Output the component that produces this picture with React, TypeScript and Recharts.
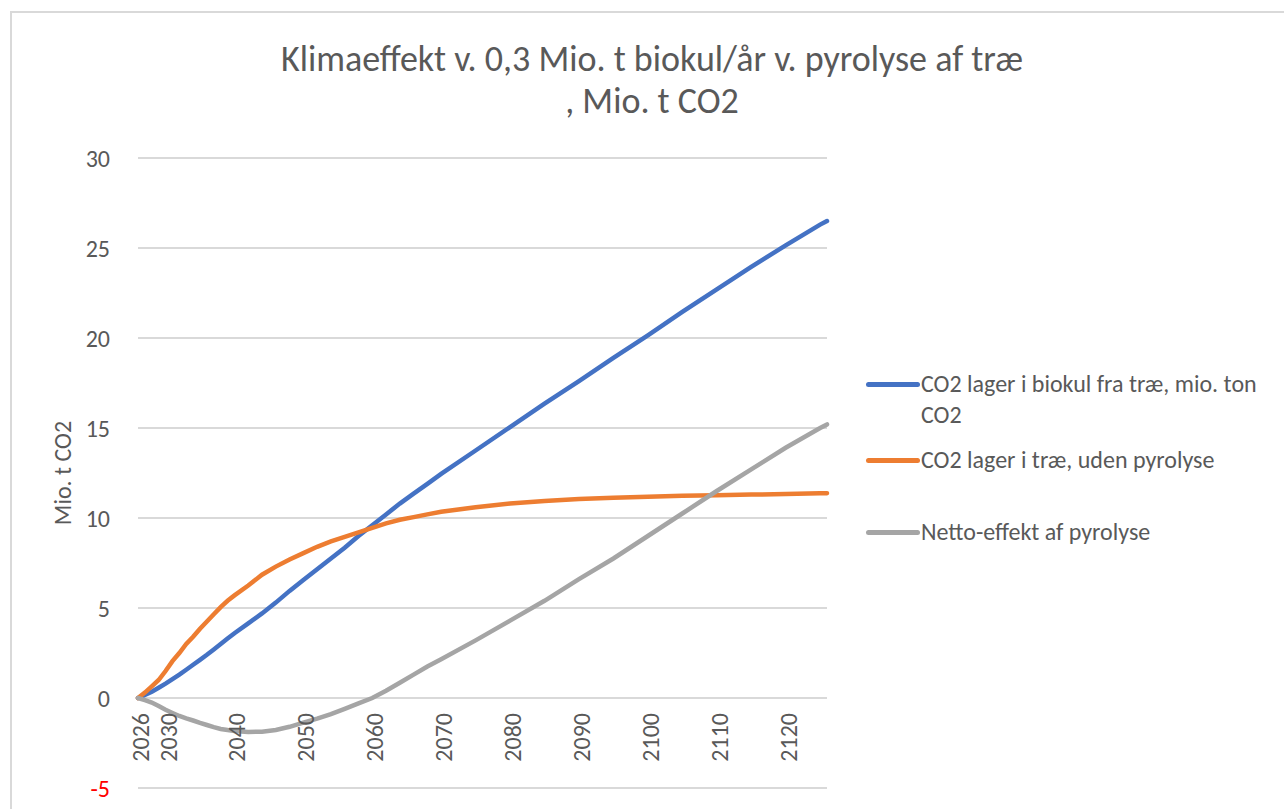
import { LineChart, Line, XAxis, YAxis, CartesianGrid } from "recharts";

const years = [
  2026, 2027, 2028, 2029, 2030, 2031, 2032, 2033, 2034, 2035, 2036, 2037, 2038, 2039, 2040,
  2042, 2044, 2046, 2048, 2050, 2052, 2054, 2056, 2058, 2060, 2062, 2064, 2066, 2068, 2070,
  2075, 2080, 2085, 2090, 2095, 2100, 2105, 2110, 2115, 2120, 2125, 2126,
];

const biokul = [
  0, 0.17, 0.35, 0.57, 0.8, 1.05, 1.3, 1.57, 1.85, 2.12, 2.4, 2.7, 3.0, 3.3, 3.6,
  4.15, 4.7, 5.3, 5.95, 6.55, 7.15, 7.75, 8.35, 9.0, 9.6, 10.2, 10.8, 11.35, 11.9, 12.45,
  13.75, 15.05, 16.35, 17.6, 18.9, 20.15, 21.45, 22.7, 23.95, 25.15, 26.3, 26.5,
];

const trae = [
  0, 0.3, 0.65, 1.0, 1.5, 2.05, 2.5, 3.0, 3.4, 3.85, 4.25, 4.65, 5.05, 5.4, 5.7,
  6.25, 6.85, 7.3, 7.7, 8.05, 8.4, 8.7, 8.95, 9.2, 9.45, 9.7, 9.9, 10.05, 10.2, 10.35,
  10.6, 10.8, 10.95, 11.05, 11.12, 11.18, 11.23, 11.27, 11.3, 11.33, 11.37, 11.38,
];

const netto = [
  0, -0.12, -0.25, -0.45, -0.65, -0.83, -1.0, -1.13, -1.25, -1.38, -1.5, -1.62, -1.72, -1.78, -1.83,
  -1.89, -1.87, -1.78, -1.6, -1.37, -1.15, -0.9, -0.6, -0.3, 0.0, 0.4, 0.85, 1.3, 1.75, 2.15,
  3.2, 4.3, 5.4, 6.6, 7.75, 9.0, 10.25, 11.5, 12.7, 13.9, 15.0, 15.2,
];

const xTicks = [2026, 2030, 2040, 2050, 2060, 2070, 2080, 2090, 2100, 2110, 2120];
const yTicks = [-5, 0, 5, 10, 15, 20, 25, 30];

const series = [
  { key: "biokul", name: "CO2 lager i biokul fra træ, mio. ton CO2", color: "#4472c4" },
  { key: "trae", name: "CO2 lager i træ, uden pyrolyse", color: "#ed7d31" },
  { key: "netto", name: "Netto-effekt af pyrolyse", color: "#a5a5a5" },
];

const data = years.map((year, i) => ({
  year,
  biokul: biokul[i],
  trae: trae[i],
  netto: netto[i],
}));

const W = 1284;
const H = 809;
const PLOT = { left: 138, right: 827, top: 158, bottom: 788 };
const Y_MIN = -5;
const Y_MAX = 30;
const zeroY = PLOT.bottom - ((0 - Y_MIN) / (Y_MAX - Y_MIN)) * (PLOT.bottom - PLOT.top);

const FONT = "Carlito, 'Open Sans', sans-serif";
const TEXT = "#595959";
const legendTops = [368, 444, 516];

function XTick({ x, payload }: any) {
  const tx = x + 2.5;
  const ty = zeroY + 15;
  return (
    <text
      x={tx}
      y={ty}
      transform={`rotate(-90, ${tx}, ${ty})`}
      textAnchor="end"
      dominantBaseline="central"
      fill={TEXT}
      fontSize={24}
      fontFamily={FONT}
    >
      {payload.value}
    </text>
  );
}

function YTick({ x, y, payload }: any) {
  return (
    <text
      x={x}
      y={y}
      textAnchor="end"
      dominantBaseline="central"
      fill={payload.value < 0 ? "#ff0000" : TEXT}
      fontSize={24}
      fontFamily={FONT}
    >
      {payload.value}
    </text>
  );
}

export default function App() {
  return (
    <div style={{ position: "absolute", left: 0, top: 0, width: W, height: H, overflow: "hidden", background: "#fff" }}>
      <div
        style={{
          position: "absolute",
          left: 10,
          top: 11,
          width: W,
          height: H,
          border: "2px solid #d9d9d9",
        }}
      />
      <div
        style={{
          position: "absolute",
          left: 152,
          width: 1000,
          top: 38,
          textAlign: "center",
          fontFamily: FONT,
          fontSize: 36,
          lineHeight: "42px",
          color: TEXT,
        }}
      >
        Klimaeffekt v. 0,3 Mio. t biokul/år v. pyrolyse af træ
        <br />, Mio. t CO2
      </div>
      <div style={{ position: "absolute", left: 0, top: 0 }}>
        <LineChart
          width={W}
          height={H}
          data={data}
          margin={{ top: PLOT.top, right: W - PLOT.right, bottom: H - PLOT.bottom - 1, left: 0 }}
        >
          <CartesianGrid vertical={false} stroke="#d9d9d9" strokeWidth={2} />
          <XAxis
            dataKey="year"
            type="number"
            domain={[2026, 2126]}
            ticks={xTicks}
            interval={0}
            height={1}
            axisLine={false}
            tickLine={false}
            tick={<XTick />}
          />
          <YAxis
            type="number"
            domain={[Y_MIN, Y_MAX]}
            ticks={yTicks}
            interval={0}
            width={PLOT.left}
            axisLine={false}
            tickLine={false}
            tick={<YTick />}
            tickMargin={22}
            label={(props: any) => {
              const vb = props.viewBox || {};
              const cy = (vb.y ?? PLOT.top) + (vb.height ?? PLOT.bottom - PLOT.top) / 2;
              return (
                <text
                  x={62}
                  y={cy}
                  transform={`rotate(-90, 62, ${cy})`}
                  textAnchor="middle"
                  dominantBaseline="central"
                  fill={TEXT}
                  fontSize={24}
                  fontFamily={FONT}
                >
                  Mio. t CO2
                </text>
              );
            }}
          />
          {series.map((s) => (
            <Line
              key={s.key}
              dataKey={s.key}
              name={s.name}
              stroke={s.color}
              strokeWidth={4.5}
              strokeLinecap="round"
              dot={false}
              type="linear"
              isAnimationActive={false}
            />
          ))}
        </LineChart>
      </div>
      {series.map((s, i) => (
        <div
          key={s.key}
          style={{
            position: "absolute",
            left: 866,
            top: legendTops[i],
            display: "flex",
            alignItems: "flex-start",
            fontFamily: FONT,
            fontSize: 24,
            lineHeight: "31px",
            color: TEXT,
          }}
        >
          <div
            style={{
              width: 54,
              height: 5,
              borderRadius: 3,
              background: s.color,
              marginTop: 14,
              flexShrink: 0,
            }}
          />
          <div style={{ width: 360, marginLeft: 1 }}>{s.name}</div>
        </div>
      ))}
    </div>
  );
}
